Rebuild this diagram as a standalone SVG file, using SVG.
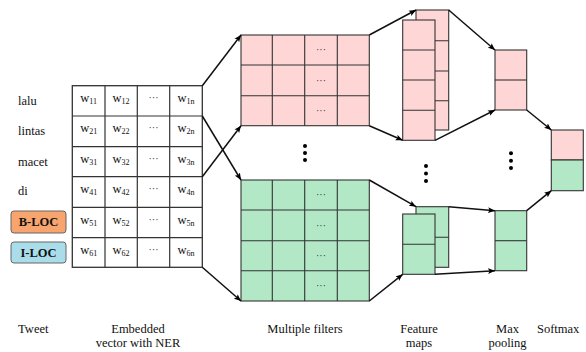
<svg xmlns="http://www.w3.org/2000/svg" width="586" height="352" viewBox="0 0 586 352">
<style>
text{font-family:"Liberation Serif","Times New Roman",serif;fill:#111}
.lbl{font-size:12.5px}
.cap{font-size:12.5px;text-anchor:middle}
.w{font-size:12.5px;text-anchor:middle}
.sub{font-size:8px}
.ell{font-size:10px;text-anchor:middle;fill:#333}
.cell{fill:#fff;stroke:#333;stroke-width:1.2}
.pk{fill:#FFD6D6;stroke:#333;stroke-width:1.1}
.gr{fill:#B2E8C6;stroke:#333;stroke-width:1.1}
.conn{stroke:#111;stroke-width:1.5;fill:none;marker-end:url(#ah)}
.dot{fill:#000}
</style>
<defs>
<marker id="ah" viewBox="0 0 10 10" refX="10" refY="5" markerWidth="7" markerHeight="7" markerUnits="userSpaceOnUse" orient="auto"><path d="M0,0.8 L10,5 L0,9.2 L2.2,5 z" fill="#000"/></marker>
</defs>
<rect width="586" height="352" fill="#fff"/>

<g id="tweet">
<text class="lbl" x="18" y="105">lalu</text>
<text class="lbl" x="18" y="135">lintas</text>
<text class="lbl" x="18" y="166">macet</text>
<text class="lbl" x="18" y="195">di</text>
<rect x="11" y="211" width="55" height="22" rx="3" fill="#F8A46E" stroke="#666" stroke-width="1"/>
<text class="lbl" x="38.5" y="226" text-anchor="middle" font-weight="bold">B-LOC</text>
<rect x="11" y="242" width="55" height="21" rx="3" fill="#A9DDE9" stroke="#666" stroke-width="1"/>
<text class="lbl" x="38.5" y="256.5" text-anchor="middle" font-weight="bold">I-LOC</text>
</g>

<g id="embedded-matrix">
<rect x="72.3" y="85.7" width="130" height="181.6" fill="#fff" stroke="#333" stroke-width="1.3"/>
<path d="M105,85.7V267.3M137.3,85.7V267.3M169.7,85.7V267.3M72.3,116H202.3M72.3,146.7H202.3M72.3,176.7H202.3M72.3,207.3H202.3M72.3,237.7H202.3" stroke="#333" stroke-width="1.2" fill="none"/>
<text class="w" x="88.7" y="102">w<tspan class="sub" dy="2">11</tspan></text>
<text class="w" x="121" y="102">w<tspan class="sub" dy="2">12</tspan></text>
<text class="ell" x="153.5" y="101">···</text>
<text class="w" x="186" y="102">w<tspan class="sub" dy="2">1n</tspan></text>
<text class="w" x="88.7" y="132">w<tspan class="sub" dy="2">21</tspan></text>
<text class="w" x="121" y="132">w<tspan class="sub" dy="2">22</tspan></text>
<text class="ell" x="153.5" y="131">···</text>
<text class="w" x="186" y="132">w<tspan class="sub" dy="2">2n</tspan></text>
<text class="w" x="88.7" y="163">w<tspan class="sub" dy="2">31</tspan></text>
<text class="w" x="121" y="163">w<tspan class="sub" dy="2">32</tspan></text>
<text class="ell" x="153.5" y="162">···</text>
<text class="w" x="186" y="163">w<tspan class="sub" dy="2">3n</tspan></text>
<text class="w" x="88.7" y="193">w<tspan class="sub" dy="2">41</tspan></text>
<text class="w" x="121" y="193">w<tspan class="sub" dy="2">42</tspan></text>
<text class="ell" x="153.5" y="192">···</text>
<text class="w" x="186" y="193">w<tspan class="sub" dy="2">4n</tspan></text>
<text class="w" x="88.7" y="224">w<tspan class="sub" dy="2">51</tspan></text>
<text class="w" x="121" y="224">w<tspan class="sub" dy="2">52</tspan></text>
<text class="ell" x="153.5" y="223">···</text>
<text class="w" x="186" y="224">w<tspan class="sub" dy="2">5n</tspan></text>
<text class="w" x="88.7" y="254">w<tspan class="sub" dy="2">61</tspan></text>
<text class="w" x="121" y="254">w<tspan class="sub" dy="2">62</tspan></text>
<text class="ell" x="153.5" y="253">···</text>
<text class="w" x="186" y="254">w<tspan class="sub" dy="2">6n</tspan></text>
</g>

<g id="filter-pink">
<rect class="pk" x="241" y="35" width="128.3" height="90.7"/>
<path d="M272.3,35V125.7M304.7,35V125.7M337.3,35V125.7M241,65H369.3M241,95.7H369.3" stroke="#333" stroke-width="1.1" fill="none"/>
<text class="ell" x="321" y="53">···</text>
<text class="ell" x="321" y="83.5">···</text>
<text class="ell" x="321" y="113.5">···</text>
</g>

<g id="filter-dots">
<circle class="dot" cx="305" cy="146" r="2"/>
<circle class="dot" cx="305" cy="153" r="2"/>
<circle class="dot" cx="305" cy="160" r="2"/>
</g>

<g id="filter-green">
<rect class="gr" x="241" y="180" width="128.3" height="121"/>
<path d="M272.3,180V301M304.7,180V301M337.3,180V301M241,210H369.3M241,240.7H369.3M241,270.7H369.3" stroke="#333" stroke-width="1.1" fill="none"/>
<text class="ell" x="321" y="198">···</text>
<text class="ell" x="321" y="228.5">···</text>
<text class="ell" x="321" y="258.5">···</text>
<text class="ell" x="321" y="289">···</text>
</g>

<g id="feature-pink">
<rect class="pk" x="416" y="10" width="32.7" height="120"/>
<path d="M416,40.7H448.7M416,71H448.7M416,100.7H448.7" stroke="#333" stroke-width="1.1"/>
<rect class="pk" x="402.7" y="20" width="32.3" height="120.3"/>
<path d="M402.7,50H435M402.7,80H435M402.7,110.3H435" stroke="#333" stroke-width="1.1"/>
</g>

<g id="feature-dots">
<circle class="dot" cx="426" cy="166" r="2"/>
<circle class="dot" cx="426" cy="173.5" r="2"/>
<circle class="dot" cx="426" cy="181" r="2"/>
</g>

<g id="feature-green">
<rect class="gr" x="416" y="206.7" width="32.7" height="60.6"/>
<path d="M416,237.3H448.7" stroke="#333" stroke-width="1.1"/>
<rect class="gr" x="402.7" y="214" width="32.3" height="60.3"/>
<path d="M402.7,244.3H435" stroke="#333" stroke-width="1.1"/>
</g>

<g id="maxpool-pink">
<rect class="pk" x="495" y="50" width="31.7" height="60"/>
<path d="M495,80H526.7" stroke="#333" stroke-width="1.1"/>
</g>

<g id="maxpool-dots">
<circle class="dot" cx="511" cy="153.3" r="2"/>
<circle class="dot" cx="511" cy="160.7" r="2"/>
<circle class="dot" cx="511" cy="168" r="2"/>
</g>

<g id="maxpool-green">
<rect class="gr" x="495" y="210.7" width="31.7" height="60"/>
<path d="M495,240.7H526.7" stroke="#333" stroke-width="1.1"/>
</g>

<g id="softmax">
<rect class="pk" x="551.3" y="130" width="32" height="30"/>
<rect class="gr" x="551.3" y="160" width="32" height="30.7"/>
</g>

<g id="connectors">
<line class="conn" x1="202.3" y1="85.7" x2="241" y2="35"/>
<line class="conn" x1="202.3" y1="116" x2="241" y2="180"/>
<line class="conn" x1="202.3" y1="176.7" x2="241" y2="125.7"/>
<line class="conn" x1="202.3" y1="267.3" x2="241" y2="301"/>
<line class="conn" x1="369.3" y1="35" x2="416" y2="10"/>
<line class="conn" x1="369.3" y1="125.7" x2="402.7" y2="140.3"/>
<line class="conn" x1="369.3" y1="180" x2="416" y2="206.7"/>
<line class="conn" x1="369.3" y1="301" x2="402.7" y2="274.3"/>
<line class="conn" x1="448.7" y1="10" x2="495" y2="50"/>
<line class="conn" x1="435" y1="140.3" x2="495" y2="110"/>
<line class="conn" x1="448.7" y1="206.7" x2="495" y2="210.7"/>
<line class="conn" x1="435" y1="274.3" x2="495" y2="270.7"/>
<line class="conn" x1="526.7" y1="110" x2="551.3" y2="130"/>
<line class="conn" x1="526.7" y1="210.7" x2="551.3" y2="190.7"/>
</g>

<g id="captions">
<text class="cap" x="33.3" y="333">Tweet</text>
<text class="cap" x="138" y="333">Embedded</text>
<text class="cap" x="138" y="347">vector with NER</text>
<text class="cap" x="305" y="333">Multiple filters</text>
<text class="cap" x="419" y="333">Feature</text>
<text class="cap" x="419" y="347">maps</text>
<text class="cap" x="507.5" y="333">Max</text>
<text class="cap" x="507.5" y="347">pooling</text>
<text class="lbl" x="537" y="333">Softmax</text>
</g>
</svg>
